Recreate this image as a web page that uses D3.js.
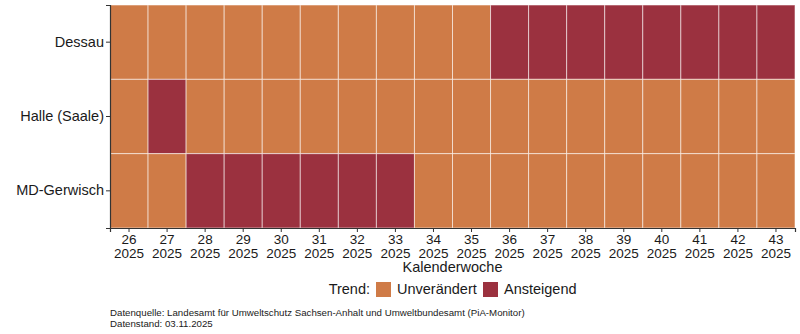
<!DOCTYPE html>
<html>
<head>
<meta charset="utf-8">
<script src="https://cdn.jsdelivr.net/npm/d3@7"></script>
<style>
  body { margin: 0; background: #fff; }
  text { font-family: "Liberation Sans", Arial, sans-serif; fill: #1a1a1a; }
</style>
</head>
<body>
<div class="board"></div>
<script>
var margin = { top: 5, right: 5, bottom: 106, left: 110 },
    W = 800, H = 334,
    width = W - margin.left - margin.right,
    height = H - margin.top - margin.bottom;

// weeks on the x axis, sites on the y axis
const weeks = d3.range(26, 44)
const years = weeks.map(() => 2025)
const sites = ["Dessau", "Halle (Saale)", "MD-Gerwisch"]
const trendLevels = ["Unverändert", "Ansteigend"]

// 0 = Unverändert, 1 = Ansteigend, one row per site in week order
const dessau =   [0,0,0,0,0,0,0,0,0,0,1,1,1,1,1,1,1,1]
const halle =    [0,1,0,0,0,0,0,0,0,0,0,0,0,0,0,0,0,0]
const gerwisch = [0,0,1,1,1,1,1,1,0,0,0,0,0,0,0,0,0,0]
const trendRows = [dessau, halle, gerwisch]

const colors = ["#CF7B47", "#9B313F"]

var svg = d3.select(".board")
    .append("svg")
    .attr("width", W)
    .attr("height", H)

var g = svg.append("g")
    .attr("transform", `translate(${margin.left}, ${margin.top})`)

let xScale = d3.scaleBand()
    .domain(weeks)
    .range([0, width])

let yScale = d3.scaleBand()
    .domain(sites)
    .range([0, height])

let color = d3.scaleOrdinal()
    .domain([0, 1])
    .range(colors)

let cells = []
sites.forEach((s, r) => {
    trendRows[r].forEach((v, i) => cells.push({ site: s, week: weeks[i], value: v }))
})

g.selectAll(".cell")
    .data(cells)
    .enter()
    .append("rect")
    .attr("class", "cell")
    .attr("x", d => xScale(d.week))
    .attr("y", d => yScale(d.site))
    .attr("width", xScale.bandwidth())
    .attr("height", yScale.bandwidth())
    .attr("fill", d => color(d.value))
    .attr("stroke", "rgba(255,255,255,0.55)")
    .attr("stroke-width", 1)

// axes
let yAxis = g.append("g")
    .call(d3.axisLeft(yScale).tickSizeOuter(0).tickSize(4))
yAxis.select(".domain").attr("stroke", "#333").attr("stroke-width", 1.2)
yAxis.selectAll(".tick line").attr("stroke", "#333")
yAxis.selectAll("text")
    .attr("font-size", 14.5)
    .attr("x", -6)
    .style("fill", "#1a1a1a")

let xAxis = g.append("g")
    .attr("transform", `translate(0, ${height})`)
    .call(d3.axisBottom(xScale).tickSizeOuter(0).tickSize(4).tickFormat(""))
xAxis.select(".domain").attr("stroke", "#333").attr("stroke-width", 1.2)
xAxis.selectAll(".tick line").attr("stroke", "#333")
xAxis.selectAll(".tick").each(function (d, i) {
    let t = d3.select(this).append("text")
        .attr("text-anchor", "middle")
        .attr("font-size", 13.5)
        .style("fill", "#1a1a1a")
    t.append("tspan").attr("x", 0).attr("y", 16).text(d)
    t.append("tspan").attr("x", 0).attr("y", 29.5).text(years[i])
})

g.append("text")
    .attr("x", width / 2)
    .attr("y", height + 44)
    .attr("text-anchor", "middle")
    .attr("font-size", 14.5)
    .text("Kalenderwoche")

// legend
let legend = svg.append("g").attr("transform", "translate(0, 294)")
legend.append("text")
    .attr("x", 370).attr("y", 0)
    .attr("text-anchor", "end")
    .attr("font-size", 14.5)
    .text("Trend:")
let lx = [376, 483]
trendLevels.forEach((lab, i) => {
    legend.append("rect")
        .attr("x", lx[i]).attr("y", -12)
        .attr("width", 15).attr("height", 15)
        .attr("fill", colors[i])
    legend.append("text")
        .attr("x", lx[i] + 21).attr("y", 0)
        .attr("font-size", 14.5)
        .text(lab)
})

// caption
svg.append("text")
    .attr("x", 110).attr("y", 316)
    .attr("font-size", 9.7)
    .text("Datenquelle: Landesamt für Umweltschutz Sachsen-Anhalt und Umweltbundesamt (PiA-Monitor)")
svg.append("text")
    .attr("x", 110).attr("y", 327)
    .attr("font-size", 9.7)
    .text("Datenstand: 03.11.2025")
</script>
</body>
</html>
